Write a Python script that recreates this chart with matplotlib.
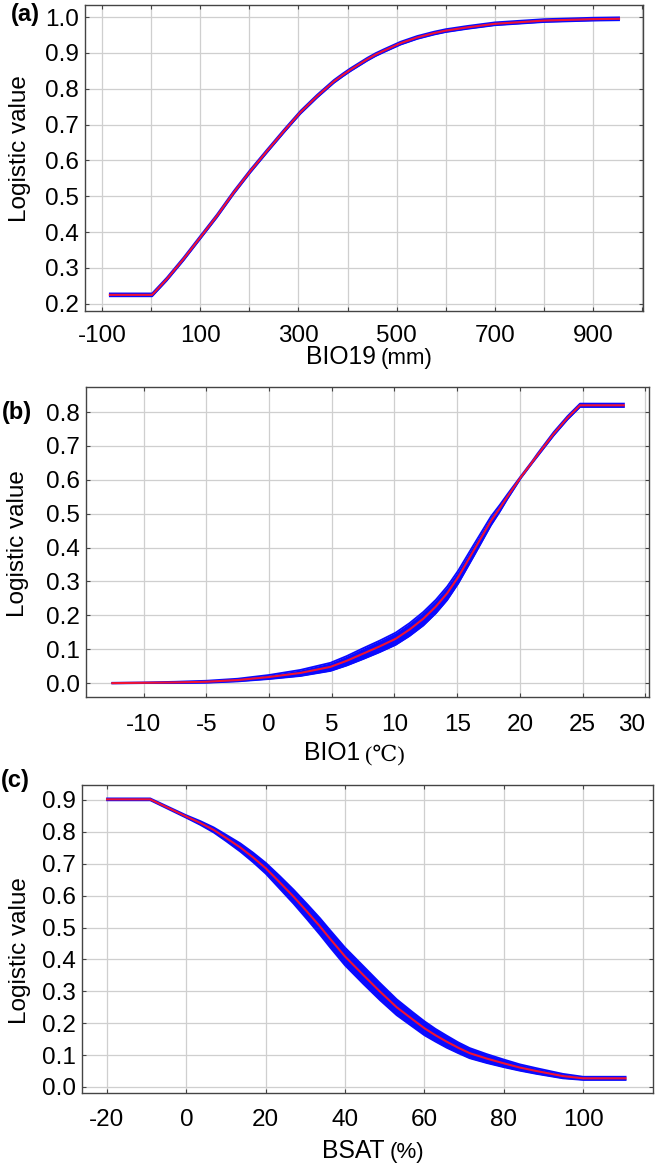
import numpy as np
import matplotlib
matplotlib.use('Agg')
import matplotlib.pyplot as plt

plt.rcParams['font.family'] = ['Liberation Sans', 'DejaVu Sans']
plt.rcParams['axes.unicode_minus'] = False

# ---- data (mean and band half-width) ----
bio19_x = [-84, 2, 32, 66, 100, 134, 168, 202, 236, 270, 304, 338, 372, 390, 406,
           440, 457, 474, 508, 525, 542, 576, 600, 644, 700, 800, 900, 953]
bio19_y = [0.225, 0.225, 0.269, 0.325, 0.385, 0.445, 0.510, 0.570, 0.626, 0.681,
           0.734, 0.779, 0.820, 0.838, 0.853, 0.882, 0.895, 0.906, 0.927, 0.935,
           0.943, 0.955, 0.962, 0.971, 0.981, 0.990, 0.994, 0.995]
bio19_sd = [0.004] * len(bio19_x)

bio1_x = [-12.5, -10, -7.5, -5, -2.5, 0, 2.5, 4.9, 6.2, 7.5, 8.8, 10.1, 11.2,
          12.3, 13.3, 14.2, 15.1, 16.3, 17.7, 18.4, 19.0, 20.1, 21.0, 21.4, 22.7,
          23.8, 24.8, 28.3]
bio1_y = [0.0, 0.001, 0.002, 0.004, 0.009, 0.018, 0.030, 0.048, 0.066, 0.087,
          0.108, 0.131, 0.158, 0.190, 0.226, 0.265, 0.314, 0.390, 0.479, 0.516,
          0.550, 0.609, 0.653, 0.673, 0.736, 0.783, 0.820, 0.820]
bio1_sd = [0.001, 0.001, 0.002, 0.003, 0.004, 0.006, 0.009, 0.012, 0.014, 0.016,
           0.017, 0.018, 0.019, 0.020, 0.020, 0.020, 0.019, 0.017, 0.013, 0.010,
           0.007, 0.003, 0.003, 0.004, 0.005, 0.005, 0.005, 0.005]

bsat_x = [-20, -9.1, 0, 3.5, 6.9, 10, 13.6, 16.8, 20, 23.5, 27, 30.4, 33.7, 36.2,
          40, 44.6, 48.8, 53, 57, 60, 62.8, 65.6, 68.5, 71.4, 75.7, 80, 84, 88.2,
          94.9, 100, 110.7]
bsat_y = [0.902, 0.902, 0.848, 0.828, 0.806, 0.781, 0.751, 0.720, 0.686, 0.642,
          0.597, 0.550, 0.503, 0.465, 0.409, 0.351, 0.299, 0.250, 0.212, 0.184,
          0.162, 0.142, 0.123, 0.106, 0.089, 0.074, 0.061, 0.050, 0.034, 0.027,
          0.027]
bsat_sd = [0.003, 0.003, 0.004, 0.006, 0.008, 0.010, 0.013, 0.015, 0.017, 0.020,
           0.022, 0.024, 0.026, 0.027, 0.028, 0.028, 0.027, 0.025, 0.023, 0.022,
           0.020, 0.019, 0.017, 0.016, 0.014, 0.012, 0.010, 0.009, 0.007, 0.005,
           0.005]

# ticks / labels
a_xticks = list(range(-100, 1001, 100))
a_xlabels = ['-100', '', '100', '', '300', '', '500', '', '700', '', '900', '']
a_yticks = [0.2, 0.3, 0.4, 0.5, 0.6, 0.7, 0.8, 0.9, 1.0]
b_xticks = [-10, -5, 0, 5, 10, 15, 20, 25, 30]
b_yticks = [0.0, 0.1, 0.2, 0.3, 0.4, 0.5, 0.6, 0.7, 0.8]
c_xticks = [-20, 0, 20, 40, 60, 80, 100]
c_yticks = [0.0, 0.1, 0.2, 0.3, 0.4, 0.5, 0.6, 0.7, 0.8, 0.9]

W, H = 656, 1168
BLUE = '#0a0aff'
RED = '#f01232'


def box(l, t, r, b):
    return [l / W, 1 - b / H, (r - l) / W, (b - t) / H]


def style_axes(ax, xticks, xlabels, yticks, xlim, ylim, xpad):
    ax.set_xlim(*xlim)
    ax.set_ylim(*ylim)
    ax.set_xticks(xticks)
    ax.set_xticklabels(xlabels)
    ax.set_yticks(yticks)
    ax.set_yticklabels([f'{v:.1f}' for v in yticks])
    ax.grid(True, color='#cfcfcf', lw=0.9)
    ax.set_axisbelow(True)
    ax.tick_params(direction='in', length=3, width=0.8, color='#444444',
                   top=True, right=True, labelsize=17.5, labelcolor='black')
    ax.tick_params(axis='x', pad=xpad)
    ax.tick_params(axis='y', pad=4.3)
    for sp in ax.spines.values():
        sp.set_color('#444444')
        sp.set_linewidth(1.0)


def draw_curve(ax, x, y, sd):
    x = np.array(x)
    y = np.array(y)
    sd = np.array(sd)
    lo, hi = y - sd, y + sd
    ax.fill_between(x, lo, hi, color=BLUE, lw=0, zorder=3)
    ax.plot(x, lo, color=BLUE, lw=1.3, zorder=3, solid_joinstyle='round')
    ax.plot(x, hi, color=BLUE, lw=1.3, zorder=3, solid_joinstyle='round')
    ax.plot(x, y, color=RED, lw=1.5, zorder=4, solid_joinstyle='round')


fig = plt.figure(figsize=(W / 100, H / 100), dpi=100)
fig.patch.set_facecolor('white')

ax_a = fig.add_axes(box(85, 5, 643, 311))
draw_curve(ax_a, bio19_x, bio19_y, bio19_sd)
style_axes(ax_a, a_xticks, a_xlabels, a_yticks, (-134.6, 1001.8), (0.180, 1.0335), 10)

ax_b = fig.add_axes(box(86, 387, 649, 697))
draw_curve(ax_b, bio1_x, bio1_y, bio1_sd)
style_axes(ax_b, b_xticks, [str(v) for v in b_xticks], b_yticks,
           (-14.6, 30.3), (-0.041, 0.874), 12)
# last label sits against the right edge, as in the original
ax_b.get_xticklabels()[-1].set_horizontalalignment('right')

ax_c = fig.add_axes(box(82, 785, 653, 1093))
draw_curve(ax_c, bsat_x, bsat_y, bsat_sd)
style_axes(ax_c, c_xticks, [str(v) for v in c_xticks], c_yticks,
           (-26.3, 117.6), (-0.019, 0.947), 11.5)

# y labels
for cx, cy in [(20, 149), (18, 544), (20, 951)]:
    fig.text(cx / W, 1 - cy / H, 'Logistic value', rotation=90, fontsize=17.5,
             ha='center', va='center')

# x labels: main part + unit in a different face
xlabel_parts = [
    ('BIO19', '(mm)', 378, 364, dict(family=['Liberation Sans'], size=16)),
    ('BIO1', '(\u2103)', 362, 760, dict(family=['Liberation Serif', 'DejaVu Serif', 'Noto Sans CJK SC'], size=16)),
    ('BSAT', '(%)', 387, 1158, dict(family=['Liberation Sans'], size=16)),
]
for main, unit, split, base, ufont in xlabel_parts:
    fig.text((split - 2) / W, 1 - base / H, main, fontsize=17.8,
             ha='right', va='baseline')
    fig.text((split + 3) / W, 1 - base / H, unit, ha='left', va='baseline',
             fontfamily=ufont['family'], fontsize=ufont['size'])

# panel letters
for letter, lx, cy in [('(a)', 11, 15), ('(b)', 2, 413), ('(c)', 1, 780)]:
    fig.text(lx / W, 1 - cy / H, letter, fontsize=17, fontweight='bold',
             ha='left', va='center')

fig.savefig('out.png', dpi=100)
